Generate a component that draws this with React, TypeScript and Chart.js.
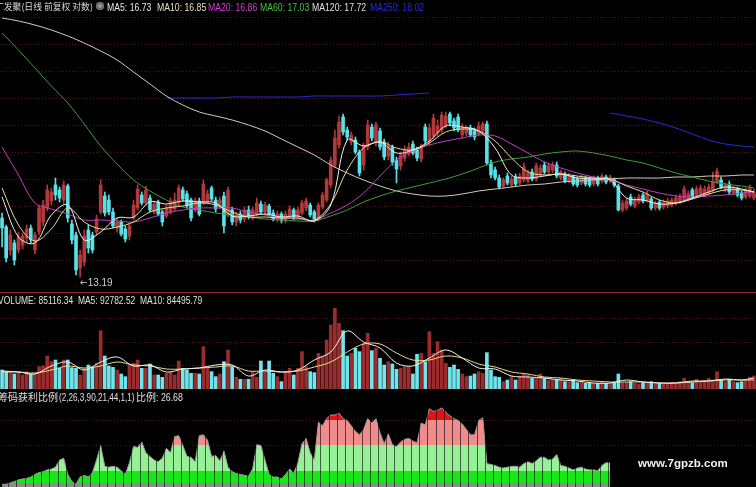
import React, { useEffect, useRef } from 'react';
import { Chart, registerables } from 'chart.js';

Chart.register(...registerables);

// ---------- daily candles (前复权) ----------
const OPEN = [
  15.55, 15.19, 14.27, 14.55, 14.27, 14.47, 14.75, 15.15, 14.27, 14.99,
  15.39, 15.95, 16.23, 16.87, 16.67, 16.27, 16.83, 15.31, 14.87, 13.55,
  13.79, 15.07, 14.87, 14.99, 15.79, 16.43, 16.27, 15.79, 15.15, 15.39,
  15.11, 14.83, 15.55, 15.95, 16.47, 16.15, 16.35, 15.79, 16.19, 15.79,
  15.63, 15.79, 15.91, 16.15, 16.67, 16.51, 16.27, 15.87, 16.23, 16.15,
  16.19, 16.75, 16.27, 16.03, 16.43, 15.67, 15.87, 15.39, 15.71, 15.51,
  15.87, 15.55, 15.71, 16.11, 15.79, 16.03, 15.75, 15.51, 15.71, 15.43,
  15.63, 15.87, 15.59, 15.75, 15.95, 16.07, 15.79, 15.55, 15.99, 16.27,
  16.87, 17.67, 18.47, 19.59, 19.07, 18.59, 18.67, 18.19, 17.67, 18.39,
  19.19, 18.59, 19.03, 18.59, 18.03, 18.39, 17.87, 17.63, 17.95, 18.11,
  18.51, 18.27, 17.91, 19.19, 18.59, 18.83, 18.95, 19.07, 19.23, 19.71,
  19.43, 19.59, 18.87, 18.95, 19.15, 19.03, 18.91, 19.03, 19.31, 17.75,
  17.47, 17.15, 16.83, 17.23, 16.87, 17.19, 16.95, 17.07, 17.03, 17.39,
  17.11, 17.27, 17.67, 17.39, 17.47, 17.67, 17.15, 17.31, 17.03, 17.19,
  17.11, 16.95, 17.15, 17.11, 16.91, 17.15, 17.03, 17.19, 17.03, 17.07,
  16.83, 15.87, 15.95, 16.39, 16.03, 16.19, 16.47, 16.27, 16.31, 15.95,
  16.19, 15.99, 16.03, 16.07, 16.15, 16.19, 16.27, 16.31, 16.67, 16.47,
  16.51, 16.47, 16.55, 16.67, 16.99, 17.07, 16.67, 16.91, 16.55, 16.71,
  16.55, 16.39, 16.43, 16.35,
];

const HIGH = [
  15.75, 15.27, 15.07, 14.67, 14.99, 14.95, 15.27, 15.27, 14.99, 16.07,
  16.27, 16.87, 16.75, 17.15, 16.79, 17.03, 16.91, 15.47, 14.99, 14.27,
  15.07, 15.27, 14.99, 15.67, 17.07, 16.59, 16.47, 15.95, 15.55, 15.47,
  15.23, 15.35, 16.27, 16.87, 16.59, 16.83, 16.47, 16.23, 16.27, 15.87,
  16.07, 16.35, 16.55, 16.87, 16.79, 16.63, 16.35, 16.35, 16.35, 17.07,
  16.67, 16.83, 16.39, 16.39, 16.59, 16.79, 15.99, 15.79, 15.83, 15.99,
  16.03, 15.99, 16.35, 16.23, 16.19, 16.11, 15.87, 15.83, 15.79, 15.83,
  16.03, 15.95, 15.99, 16.27, 16.35, 16.15, 15.87, 16.15, 16.59, 17.15,
  17.99, 19.07, 19.63, 19.71, 19.19, 18.99, 18.79, 18.27, 18.55, 19.47,
  19.31, 19.39, 19.15, 18.71, 18.59, 18.47, 17.99, 18.19, 18.43, 18.55,
  18.63, 18.39, 18.51, 19.31, 19.31, 19.71, 19.47, 19.79, 19.79, 19.79,
  19.55, 19.71, 19.31, 19.23, 19.27, 19.15, 19.39, 19.39, 19.43, 17.87,
  17.59, 17.27, 17.15, 17.35, 17.23, 17.31, 17.35, 17.75, 17.47, 17.51,
  17.75, 17.67, 17.79, 17.75, 17.79, 17.79, 17.47, 17.39, 17.35, 17.27,
  17.19, 17.27, 17.23, 17.19, 17.23, 17.23, 17.31, 17.27, 17.27, 17.15,
  16.91, 16.27, 16.35, 16.51, 16.39, 16.51, 16.55, 16.63, 16.39, 16.23,
  16.27, 16.27, 16.35, 16.35, 16.47, 16.51, 16.83, 16.63, 16.75, 16.83,
  16.87, 16.83, 16.91, 17.39, 17.55, 17.19, 16.95, 17.03, 16.83, 16.79,
  16.63, 16.75, 16.87, 16.71,
];

const LOW = [
  14.39, 13.79, 14.07, 13.67, 14.15, 14.31, 14.59, 14.55, 14.11, 14.87,
  15.23, 15.83, 16.07, 16.27, 16.19, 16.11, 15.39, 14.51, 13.27, 13.19,
  13.63, 14.15, 14.15, 14.87, 15.71, 15.63, 15.67, 15.15, 14.99, 14.83,
  14.59, 14.67, 15.47, 15.87, 16.07, 16.07, 15.79, 15.71, 15.63, 15.23,
  15.55, 15.71, 15.83, 16.07, 16.23, 15.95, 15.43, 15.79, 15.63, 16.07,
  16.11, 16.23, 15.79, 15.91, 14.95, 15.59, 15.27, 15.23, 15.35, 15.39,
  15.51, 15.47, 15.63, 15.71, 15.67, 15.63, 15.43, 15.39, 15.35, 15.35,
  15.55, 15.47, 15.51, 15.67, 15.83, 15.59, 15.39, 15.43, 15.91, 16.19,
  16.75, 17.55, 18.35, 18.87, 18.67, 18.47, 18.11, 17.23, 17.47, 18.27,
  18.63, 18.43, 18.27, 17.87, 17.87, 17.67, 16.95, 17.47, 17.83, 18.03,
  18.07, 17.83, 17.79, 18.51, 18.47, 18.71, 18.83, 18.95, 19.15, 19.23,
  19.03, 18.99, 18.75, 18.83, 18.79, 18.67, 18.83, 18.95, 17.67, 17.15,
  17.07, 16.71, 16.75, 16.87, 16.79, 16.83, 16.87, 16.99, 16.95, 17.03,
  17.03, 17.19, 17.31, 17.27, 17.35, 17.15, 17.07, 16.95, 16.95, 16.83,
  16.79, 16.87, 16.83, 16.79, 16.83, 16.83, 16.95, 16.91, 16.95, 16.79,
  15.83, 15.79, 15.87, 16.03, 15.95, 16.11, 16.15, 16.19, 15.87, 15.87,
  15.87, 15.91, 15.95, 15.99, 16.07, 16.11, 16.19, 16.23, 16.31, 16.39,
  16.43, 16.39, 16.47, 16.59, 16.91, 16.71, 16.59, 16.51, 16.47, 16.39,
  16.27, 16.31, 16.35, 16.27,
];

const CLOSE = [
  15.15, 13.95, 14.87, 13.87, 14.79, 14.83, 15.11, 14.67, 14.87, 15.95,
  16.07, 16.67, 16.59, 16.47, 16.35, 16.87, 15.55, 14.67, 13.47, 14.07,
  14.83, 14.35, 14.27, 15.51, 16.87, 15.75, 15.79, 15.23, 15.39, 14.91,
  14.71, 15.23, 16.07, 16.71, 16.15, 16.67, 15.87, 16.11, 15.71, 15.39,
  15.95, 16.23, 16.27, 16.75, 16.31, 16.03, 15.55, 16.23, 15.71, 16.91,
  16.51, 16.31, 15.91, 16.27, 15.23, 16.67, 15.39, 15.67, 15.47, 15.87,
  15.63, 15.87, 16.15, 15.79, 16.07, 15.71, 15.51, 15.71, 15.47, 15.71,
  15.91, 15.59, 15.87, 16.15, 16.23, 15.67, 15.51, 16.07, 16.47, 17.07,
  17.87, 18.75, 19.39, 18.99, 18.79, 18.87, 18.19, 17.35, 18.47, 19.27,
  18.75, 19.27, 18.39, 17.99, 18.43, 17.79, 17.51, 18.07, 18.31, 18.39,
  18.15, 17.95, 18.35, 18.63, 19.15, 19.55, 19.23, 19.67, 19.63, 19.35,
  19.15, 19.07, 19.19, 19.15, 18.87, 18.79, 19.23, 19.31, 17.75, 17.27,
  17.15, 16.79, 17.07, 16.95, 17.11, 16.91, 17.23, 17.59, 17.35, 17.11,
  17.63, 17.55, 17.39, 17.63, 17.67, 17.23, 17.39, 17.03, 17.23, 16.91,
  16.87, 17.19, 16.91, 16.87, 17.15, 16.91, 17.23, 16.99, 17.19, 16.87,
  15.87, 16.15, 16.23, 16.11, 16.27, 16.39, 16.23, 16.51, 15.95, 16.15,
  15.95, 16.15, 16.23, 16.27, 16.35, 16.39, 16.71, 16.51, 16.39, 16.71,
  16.75, 16.71, 16.79, 16.99, 17.43, 16.79, 16.87, 16.59, 16.75, 16.47,
  16.35, 16.63, 16.75, 16.59,
];

const VOLUME = [
  114000, 104000, 104000, 90000, 104000, 84000, 104000, 90000, 90000, 134000,
  138000, 198000, 164000, 174000, 124000, 174000, 174000, 128000, 124000, 84000,
  124000, 144000, 134000, 154000, 350000, 198000, 138000, 130000, 114000, 90000,
  74000, 144000, 154000, 174000, 124000, 124000, 150000, 84000, 84000, 70000,
  94000, 104000, 84000, 168000, 124000, 114000, 94000, 94000, 90000, 254000,
  134000, 104000, 74000, 90000, 164000, 234000, 134000, 70000, 58000, 58000,
  58000, 104000, 70000, 168000, 104000, 168000, 94000, 74000, 44000, 104000,
  124000, 84000, 124000, 224000, 134000, 104000, 98000, 214000, 198000, 294000,
  384000, 484000, 394000, 350000, 198000, 214000, 244000, 224000, 274000, 334000,
  230000, 244000, 184000, 144000, 164000, 150000, 118000, 124000, 134000, 134000,
  90000, 208000, 214000, 164000, 344000, 214000, 284000, 234000, 154000, 130000,
  144000, 118000, 90000, 74000, 78000, 90000, 104000, 94000, 218000, 114000,
  74000, 70000, 44000, 54000, 74000, 54000, 78000, 90000, 84000, 64000,
  64000, 90000, 64000, 54000, 58000, 54000, 64000, 44000, 44000, 54000,
  38000, 44000, 34000, 34000, 34000, 34000, 44000, 34000, 34000, 38000,
  90000, 38000, 38000, 44000, 34000, 30000, 38000, 34000, 44000, 30000,
  34000, 28000, 34000, 38000, 34000, 44000, 64000, 44000, 38000, 58000,
  44000, 50000, 64000, 54000, 104000, 54000, 44000, 58000, 44000, 38000,
  44000, 54000, 70000, 78000,
];

// ---------- moving averages, read at every 4th session ----------
const MA_IDX = [
  0, 4, 8, 12, 16, 20, 24, 28, 32, 36, 40, 44, 48, 52, 56, 60, 64, 68, 72, 76,
  80, 84, 88, 92, 96, 100, 104, 108, 112, 116, 120, 124, 128, 132, 136, 140,
  144, 148, 152, 156, 160, 164, 168, 172, 176, 180, 183,
];

const MA5 = [
  16.39, 14.79, 14.55, 15.67, 16.07, 14.67, 14.99, 15.55, 15.59, 16.19,
  16.11, 16.23, 16.19, 16.15, 15.63, 15.63, 15.71, 15.59, 15.63, 15.43,
  16.07, 18.67, 18.43, 18.59, 18.15, 18.27, 18.63, 19.23, 19.19, 19.03,
  18.35, 17.27, 17.15, 17.23, 17.31, 17.15, 17.11, 17.07, 16.35, 16.27,
  16.11, 16.15, 16.35, 16.59, 16.79, 16.71, 16.59,
];
const MA10 = [
  16.75, 15.27, 14.63, 15.11, 15.95, 15.39, 15.11, 15.19, 15.39, 15.79,
  15.95, 16.03, 16.15, 16.07, 15.79, 15.59, 15.59, 15.55, 15.55, 15.47,
  16.11, 17.47, 18.35, 18.59, 18.35, 18.27, 18.55, 18.99, 19.11, 19.03,
  18.63, 17.95, 17.39, 17.27, 17.31, 17.23, 17.15, 17.11, 16.83, 16.59,
  16.27, 16.15, 16.31, 16.51, 16.67, 16.67, 16.59,
];
const MA20 = [
  18.39, 17.27, 16.15, 15.91, 15.71, 15.47, 15.47, 15.43, 15.39, 15.55,
  15.75, 15.87, 15.95, 15.95, 15.95, 15.79, 15.67, 15.55, 15.51, 15.47,
  15.75, 16.07, 16.55, 17.23, 17.87, 18.23, 18.47, 18.63, 18.75, 18.87,
  18.83, 18.51, 18.15, 17.79, 17.55, 17.35, 17.19, 17.07, 16.87, 16.71,
  16.55, 16.43, 16.39, 16.43, 16.47, 16.55, 16.59,
];
const MA60 = [
  22.95, 22.27, 21.55, 20.83, 20.15, 19.31, 18.43, 17.71, 17.07, 16.63,
  16.27, 15.99, 15.87, 15.75, 15.67, 15.59, 15.51, 15.47, 15.43, 15.43,
  15.63, 15.87, 16.19, 16.43, 16.63, 16.79, 16.95, 17.11, 17.31, 17.55,
  17.79, 17.91, 17.99, 18.11, 18.19, 18.23, 18.15, 18.03, 17.87, 17.75,
  17.55, 17.35, 17.19, 17.03, 16.91, 16.83, 16.75,
];
const MA120 = [
  23.55, 23.43, 23.27, 23.07, 22.83, 22.55, 22.23, 21.87, 21.39, 20.91,
  20.43, 20.07, 19.79, 19.63, 19.47, 19.27, 19.03, 18.71, 18.39, 18.07,
  17.67, 17.35, 17.07, 16.83, 16.63, 16.51, 16.43, 16.43, 16.51, 16.63,
  16.71, 16.79, 16.87, 16.91, 16.99, 17.03, 17.07, 17.11, 17.15, 17.15,
  17.15, 17.19, 17.19, 17.23, 17.23, 17.27, 17.27,
];
const MA250 = [
  null, null, null, null, null, null, null, null, null, null,
  20.35, 20.35, 20.35, 20.35, 20.39, 20.39, 20.39, 20.39, 20.39, 20.43,
  20.43, 20.43, 20.43, 20.43, 20.47, 20.51, 20.55, null, null, null,
  null, null, null, null, null, null, null, 19.75, 19.63, 19.51,
  19.35, 19.15, 18.91, 18.67, 18.51, 18.43, 18.39,
];

const VOL_MA5 = [
  108000, 102000, 90000, 138000, 162000, 114000, 162000, 192000, 138000, 144000,
  102000, 120000, 126000, 144000, 144000, 78000, 114000, 102000, 114000, 174000,
  222000, 348000, 282000, 246000, 156000, 138000, 186000, 234000, 186000, 126000,
  120000, 78000, 72000, 66000, 54000, 48000, 36000, 36000, 54000, 42000,
  36000, 36000, 48000, 48000, 60000, 54000, 66000,
];
const VOL_MA10 = [
  102000, 102000, 96000, 114000, 138000, 126000, 138000, 162000, 144000, 138000,
  120000, 120000, 126000, 132000, 138000, 108000, 108000, 102000, 108000, 132000,
  162000, 222000, 270000, 270000, 216000, 174000, 174000, 198000, 186000, 150000,
  132000, 102000, 90000, 72000, 66000, 54000, 48000, 42000, 42000, 42000,
  36000, 36000, 42000, 48000, 54000, 54000, 54000,
];

// ---------- 筹码获利比例 (%) ----------
const PROFIT_RATIO = [
  3, 3, 4.5, 6, 8, 9, 9.6, 11, 14, 16,
  17, 19, 20, 22, 30, 32, 14, 6, 3, 11,
  13, 11, 16, 30, 46, 23, 22, 23, 22, 18,
  14, 27, 45, 44, 50, 38, 34, 30, 28, 32,
  43, 38, 56, 57, 46, 34, 33, 28, 57, 58,
  52, 34, 35, 29, 40, 22, 17, 15, 14, 13,
  12, 20, 47, 46, 30, 14, 11, 11, 9, 14,
  20, 15, 27, 48, 54, 38, 30, 72, 68, 76,
  80, 80, 82, 76, 74, 68, 62, 58, 64, 76,
  71, 76, 60, 48, 59, 47, 45, 50, 53, 54,
  51, 49, 71, 69, 87, 84, 85, 88, 83, 79,
  76, 74, 70, 64, 58, 58, 74, 77, 26, 25,
  24, 22, 21, 22, 23, 23, 22, 26, 28, 26,
  29, 33, 33, 30, 31, 36, 24, 23, 21, 19,
  21, 22, 20, 19, 19, 18, 24, 27, 26.68,
];
const RATIO_BANDS = [4.4, 17.8, 46.7, 75];
const RATIO_COLORS = ['#8c8c8c', '#19e619', '#96f096', '#f08c8c', '#e01414'];

// ---------- horizontal reference levels ----------
const PRICE_GRID = [23.59, 22.51, 21.43, 20.35, 19.27, 18.19, 17.11, 16.03, 14.95, 13.87];
const VOL_GRID = [426000, 282000, 144000];
const RATIO_GRID = [74.4, 46.7];

// ---------- legend text ----------
const TITLE = '广发聚(日线 前复权 对数)';
const PRICE_LEGEND = [
  { text: 'MA5: 16.73', color: '#e8e8e8', left: 107 },
  { text: 'MA10: 16.85', color: '#e4e0b4', left: 157 },
  { text: 'MA20: 16.86', color: '#d040d0', left: 208 },
  { text: 'MA60: 17.03', color: '#44c044', left: 260 },
  { text: 'MA120: 17.72', color: '#e0e0e0', left: 312 },
  { text: 'MA250: 18.02', color: '#2a2ad2', left: 370 },
];
const VOL_LEGEND = 'VOLUME: 85116.34  MA5: 92782.52  MA10: 84495.79';
const RATIO_NAME = '筹码获利比例';
const RATIO_PARAMS = '(2,26,3,90,21,44,1,1)';
const RATIO_LABEL = '比例';
const RATIO_VALUE = ': 26.68';
const WATERMARK = 'www.7gpzb.com';

// ---------- drawing ----------
const N = CLOSE.length;
const UP = '#b2383a';
const DOWN = '#58e2e8';
const VOL_UP = '#9a2c2e';
const VOL_DOWN = '#72e4ec';
const GRID_COLOR = 'rgba(150, 32, 44, 0.6)';
const SANS = '"Liberation Sans", Arial, sans-serif';
const CJK = '"Noto Sans CJK SC", sans-serif';

const isUp = (i: number) => CLOSE[i] >= OPEN[i];

const maPoints = (vals: (number | null)[]) => MA_IDX.map((i, k) => ({ x: i, y: vals[k] }));

const lineSet = (vals: (number | null)[], color: string) => ({
  type: 'line' as const,
  data: maPoints(vals),
  borderColor: color,
  borderWidth: 1,
  pointRadius: 0,
  tension: 0.35,
  spanGaps: false,
  fill: false,
  order: 0,
});

const baseOptions = (yMin: number, yMax: number) => ({
  animation: false as const,
  responsive: false,
  maintainAspectRatio: false,
  events: [],
  layout: { padding: 0 },
  plugins: { legend: { display: false }, tooltip: { enabled: false } },
  scales: {
    x: { type: 'linear' as const, min: -0.5, max: N - 0.5, display: false, offset: false },
    y: { type: 'linear' as const, min: yMin, max: yMax, display: false },
  },
});

const hGrid = (levels: number[]) => ({
  id: 'hgrid',
  beforeDatasetsDraw(chart: any) {
    const { ctx, chartArea, scales } = chart;
    ctx.save();
    ctx.strokeStyle = GRID_COLOR;
    ctx.lineWidth = 1;
    ctx.setLineDash([1, 2]);
    levels.forEach((v) => {
      const y = Math.round(scales.y.getPixelForValue(v)) + 0.5;
      ctx.beginPath();
      ctx.moveTo(chartArea.left, y);
      ctx.lineTo(chartArea.right, y);
      ctx.stroke();
    });
    ctx.restore();
  },
});

// marks the lowest low of the window with its price
const lowLabel = {
  id: 'lowLabel',
  afterDatasetsDraw(chart: any) {
    let idx = 0;
    LOW.forEach((v, i) => {
      if (v < LOW[idx]) idx = i;
    });
    const { ctx, scales } = chart;
    const x = scales.x.getPixelForValue(idx);
    const y = scales.y.getPixelForValue(LOW[idx]) + 6;
    ctx.save();
    ctx.fillStyle = '#cfcfcf';
    ctx.textBaseline = 'middle';
    ctx.textAlign = 'left';
    ctx.font = '10px "DejaVu Sans Condensed", "DejaVu Sans", sans-serif';
    const arrow = '\u2190';
    ctx.fillText(arrow, x, y);
    const w = ctx.measureText(arrow).width;
    ctx.font = `10px ${SANS}`;
    ctx.fillText(LOW[idx].toFixed(2), x + w, y);
    ctx.restore();
  },
};

// thin dark separators every two sessions across the ratio area
const columnLines = {
  id: 'columnLines',
  afterDatasetsDraw(chart: any) {
    const { ctx, chartArea, scales } = chart;
    ctx.save();
    ctx.strokeStyle = 'rgba(0,0,0,0.6)';
    ctx.lineWidth = 1;
    for (let i = 0; i < PROFIT_RATIO.length; i += 2) {
      const x = Math.round(scales.x.getPixelForValue(i - 0.5)) + 0.5;
      ctx.beginPath();
      ctx.moveTo(x, chartArea.top);
      ctx.lineTo(x, chartArea.bottom);
      ctx.stroke();
    }
    ctx.restore();
  },
};

// hard-edged colour bands by ratio level
const bandFill = (c: any) => {
  const chart = c.chart;
  const { chartArea, scales } = chart;
  if (!chartArea) return 'rgba(0,0,0,0)';
  const base = scales.y.getPixelForValue(0);
  const span = base - chartArea.top;
  const g = chart.ctx.createLinearGradient(0, base, 0, chartArea.top);
  let prev = 0;
  RATIO_BANDS.forEach((lvl, k) => {
    const f = Math.min(1, (base - scales.y.getPixelForValue(lvl)) / span);
    g.addColorStop(prev, RATIO_COLORS[k]);
    g.addColorStop(f, RATIO_COLORS[k]);
    prev = f;
  });
  const last = RATIO_COLORS[RATIO_COLORS.length - 1];
  g.addColorStop(prev, last);
  g.addColorStop(1, last);
  return g;
};

function priceConfig(): any {
  return {
    type: 'bar',
    data: {
      datasets: [
        lineSet(MA5, '#f0f0f0'),
        lineSet(MA10, '#e6dc8c'),
        lineSet(MA20, '#c23cc2'),
        lineSet(MA60, '#3c9e3c'),
        lineSet(MA120, '#d2cdbe'),
        lineSet(MA250, '#2a2ad8'),
        {
          type: 'bar',
          data: OPEN.map((o, i) => ({ x: i, y: [o, CLOSE[i]] })),
          backgroundColor: (c: any) => (isUp(c.dataIndex) ? UP : DOWN),
          barThickness: 3,
          minBarLength: 1,
          grouped: false,
          borderWidth: 0,
          order: 1,
        },
        {
          type: 'bar',
          data: LOW.map((l, i) => ({ x: i, y: [l, HIGH[i]] })),
          backgroundColor: (c: any) => (isUp(c.dataIndex) ? UP : DOWN),
          barThickness: 1,
          grouped: false,
          borderWidth: 0,
          order: 2,
        },
      ],
    },
    options: baseOptions(12.59, 24.27),
    plugins: [hGrid(PRICE_GRID), lowLabel],
  };
}

function volumeConfig(): any {
  return {
    type: 'bar',
    data: {
      datasets: [
        lineSet(VOL_MA5, '#f0f0f0'),
        lineSet(VOL_MA10, '#e6dc8c'),
        {
          type: 'bar',
          data: VOLUME.map((v, i) => ({ x: i, y: v })),
          backgroundColor: (c: any) => (isUp(c.dataIndex) ? VOL_UP : VOL_DOWN),
          barThickness: 3,
          grouped: false,
          borderWidth: 0,
          order: 1,
        },
      ],
    },
    options: baseOptions(0, 576000),
    plugins: [hGrid(VOL_GRID)],
  };
}

function ratioConfig(): any {
  return {
    type: 'line',
    data: {
      datasets: [
        {
          data: PROFIT_RATIO.map((v, i) => ({ x: i, y: v })),
          borderColor: '#9c9c9c',
          borderWidth: 1,
          pointRadius: 0,
          tension: 0,
          fill: 'origin',
          backgroundColor: bandFill,
        },
      ],
    },
    options: baseOptions(0, 107.78),
    plugins: [hGrid(RATIO_GRID), columnLines],
  };
}

// legend text in a narrowed sans face
const Narrow = ({
  left,
  top,
  color = '#e0e0e0',
  squeeze = 0.79,
  children,
}: {
  left: number;
  top: number;
  color?: string;
  squeeze?: number;
  children: React.ReactNode;
}) => (
  <span
    style={{
      position: 'absolute',
      left,
      top,
      whiteSpace: 'pre',
      fontFamily: SANS,
      fontSize: 11,
      lineHeight: '12px',
      color,
      transform: `scaleX(${squeeze})`,
      transformOrigin: 'left center',
      zIndex: 2,
    }}
  >
    {children}
  </span>
);

const Han = ({
  left,
  top,
  size = 10,
  color = '#e0e0e0',
  children,
}: {
  left: number;
  top: number;
  size?: number;
  color?: string;
  children: React.ReactNode;
}) => (
  <span
    style={{
      position: 'absolute',
      left,
      top,
      whiteSpace: 'pre',
      fontFamily: CJK,
      fontSize: size,
      lineHeight: '12px',
      color,
      zIndex: 2,
    }}
  >
    {children}
  </span>
);

export default function App() {
  const priceRef = useRef<HTMLCanvasElement>(null);
  const volRef = useRef<HTMLCanvasElement>(null);
  const ratioRef = useRef<HTMLCanvasElement>(null);

  useEffect(() => {
    document.body.style.margin = '0';
    document.body.style.background = '#000';
    const charts: Chart[] = [];
    if (priceRef.current) charts.push(new Chart(priceRef.current, priceConfig()));
    if (volRef.current) charts.push(new Chart(volRef.current, volumeConfig()));
    if (ratioRef.current) charts.push(new Chart(ratioRef.current, ratioConfig()));
    return () => charts.forEach((c) => c.destroy());
  }, []);

  return (
    <div
      style={{
        position: 'absolute',
        left: 0,
        top: 0,
        width: 756,
        height: 487,
        background: '#000',
        overflow: 'hidden',
      }}
    >
      <canvas
        ref={priceRef}
        width={756}
        height={292}
        style={{ position: 'absolute', left: 0, top: 0, width: 756, height: 292 }}
      />
      <div style={{ position: 'absolute', left: 0, top: 292, width: 756, height: 1, background: '#9a2636' }} />
      <canvas
        ref={volRef}
        width={756}
        height={96}
        style={{ position: 'absolute', left: 0, top: 293, width: 756, height: 96 }}
      />
      <canvas
        ref={ratioRef}
        width={756}
        height={97}
        style={{ position: 'absolute', left: 0, top: 390, width: 756, height: 97 }}
      />

      {/* price panel header */}
      <Han left={-5} top={1} size={8.8} color="#d8d8d8">
        {TITLE}
      </Han>
      <span
        style={{
          position: 'absolute',
          left: 96,
          top: 2,
          width: 8,
          height: 8,
          borderRadius: '50%',
          background: '#9a9a9a',
          boxShadow: 'inset 0 0 0 2px #6a6a6a',
          zIndex: 2,
        }}
      />
      {PRICE_LEGEND.map((l) => (
        <Narrow key={l.text} left={l.left} top={1} color={l.color}>
          {l.text}
        </Narrow>
      ))}

      {/* volume panel header */}
      <Narrow left={-2} top={294} squeeze={0.77}>
        {VOL_LEGEND}
      </Narrow>

      {/* indicator panel header */}
      <Han left={-2} top={391}>
        {RATIO_NAME}
      </Han>
      <Narrow left={59} top={391} squeeze={0.74}>
        {RATIO_PARAMS}
      </Narrow>
      <Han left={136} top={391}>
        {RATIO_LABEL}
      </Han>
      <Narrow left={156} top={391} squeeze={0.8}>
        {RATIO_VALUE}
      </Narrow>

      <span
        style={{
          position: 'absolute',
          left: 638,
          top: 456,
          whiteSpace: 'nowrap',
          fontFamily: SANS,
          fontWeight: 'bold',
          fontSize: 11.5,
          lineHeight: '14px',
          color: '#f2f2f2',
          zIndex: 2,
        }}
      >
        {WATERMARK}
      </span>
    </div>
  );
}
